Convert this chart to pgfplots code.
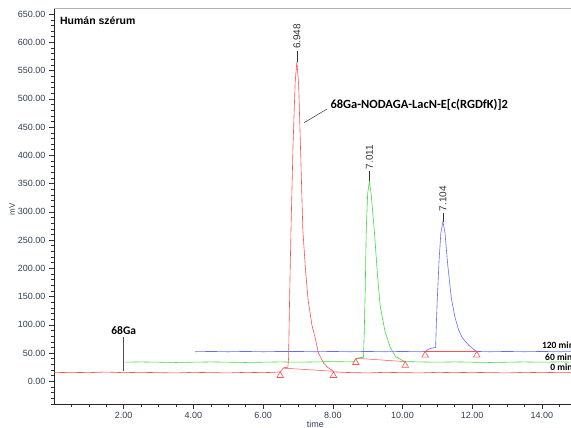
\documentclass[border=0pt]{standalone}
\usepackage{pgfplots}
\pgfplotsset{compat=1.18}
\usepackage{fontspec}
\setmainfont{Liberation Sans}
\newfontfamily\calb{Carlito}

\definecolor{tr0}{RGB}{255,80,80}
\definecolor{tr60}{RGB}{60,220,60}
\definecolor{tr120}{RGB}{105,105,255}
\definecolor{ticktxt}{RGB}{50,62,85}

\begin{document}
\begin{tikzpicture}
\begin{axis}[
    at={(0,0)}, anchor=south west, scale only axis,
    width=522.75pt, height=395.5pt,
    xmin=0, xmax=15, ymin=-40, ymax=660,
    axis x line*=bottom, axis y line*=left,
    axis line style={-, black!85, line width=0.8pt},
    xtick={2,4,...,14}, minor xtick={0.5,1,...,15},
    ytick={0,50,...,650}, minor ytick={-40,-30,...,650},
    tick align=outside, major tick length=5pt, minor tick length=3pt,
    every tick/.style={black!80, line width=0.6pt},
    scaled ticks=false,
    /pgf/number format/fixed, /pgf/number format/fixed zerofill,
    /pgf/number format/precision=2, /pgf/number format/assume math mode=true,
    tick label style={font=\fontsize{9}{10}\selectfont, text=ticktxt},
    clip=false,
    every axis plot/.append style={line width=0.6pt},
]
% 0 min
\addplot[tr0] coordinates {
(0,15.5) (0.5,16) (1,15.5) (1.5,16.5) (2,15.5) (2.5,16) (3,15.5) (3.5,15) (4,16) (4.5,15.5)
(5,15) (5.5,16) (6,15.5) (6.3,16) (6.49,17) (6.59,24) (6.71,25) (6.73,40) (6.76,145) (6.80,268)
(6.86,420) (6.92,530) (6.97,566) (7.02,525) (7.08,400) (7.14,268) (7.22,195) (7.29,145) (7.4,100)
(7.49,78) (7.59,50) (7.73,33) (7.85,25) (7.97,20) (8.02,17) (8.3,16) (8.6,15.5) (9,15) (9.5,16)
(10,15.5) (10.5,15) (11,16) (11.5,15.5) (12,16) (12.5,15.5) (13,15) (13.5,16) (14,15.5) (14.5,16) (15,16)
};
% 60 min
\addplot[tr60] coordinates {
(2.03,34) (2.5,34.5) (3,34) (3.5,33.5) (4,34) (4.5,34.5) (5,34) (5.5,33.5) (6,34) (6.5,34.5)
(7,34) (7.5,34.5) (8,35) (8.5,34.5) (8.6,35) (8.66,40) (8.75,42) (8.88,42.5) (8.90,80) (8.93,160)
(8.96,268) (9.0,332) (9.05,354) (9.1,332) (9.19,268) (9.28,190) (9.36,133) (9.5,88) (9.65,60)
(9.8,44) (10.0,37) (10.1,35) (10.5,34.5) (11,34) (11.5,34.5) (12,34) (12.5,33.5) (13,34)
(13.5,34.5) (14,34) (14.5,34.5) (15,34)
};
% 120 min
\addplot[tr120] coordinates {
(4.05,52.5) (4.5,53) (5,52.5) (5.5,53) (6,52.5) (6.5,53) (7,53) (7.5,52.5) (8,53) (8.5,52.5)
(9,53) (9.5,52.5) (10,53) (10.5,52.5) (10.65,53) (10.75,57) (10.84,59) (10.95,60) (10.97,100)
(11.0,148) (11.05,215) (11.1,262) (11.16,283) (11.22,262) (11.3,205) (11.4,148) (11.5,115)
(11.61,91) (11.7,79) (11.8,71) (11.92,63) (12.04,57) (12.13,53) (12.5,52.5) (13,53) (13.5,52.5)
(14,53) (14.5,52.5) (15,53)
};
% integration baselines
\addplot[tr0, line width=0.5pt] coordinates {(6.57,23.5) (8.02,18)};
\addplot[tr0, line width=0.5pt] coordinates {(8.66,41) (10.08,35)};
\addplot[tr0, line width=0.5pt] coordinates {(10.65,53.5) (12.13,53.5)};
% integration start/end markers
\addplot[only marks, mark=triangle, mark size=3.8pt,
    mark options={tr0, line width=0.6pt, yshift=-3.8pt}] coordinates {
(6.49,17) (8.02,17) (8.66,40) (10.08,35) (10.65,53) (12.13,53)
};

% peak labels
\draw[black!80, line width=0.6pt] (axis cs:6.97,566) -- (axis cs:6.97,585);
\node[rotate=90, anchor=west, inner sep=0pt, font=\fontsize{10}{11}\selectfont, text=black!80]
    at (axis cs:6.97,588) {6.948};
\draw[black!80, line width=0.6pt] (axis cs:9.05,354) -- (axis cs:9.05,372);
\node[rotate=90, anchor=west, inner sep=0pt, font=\fontsize{10}{11}\selectfont, text=black!80]
    at (axis cs:9.05,375) {7.011};
\draw[black!80, line width=0.6pt] (axis cs:11.16,283) -- (axis cs:11.16,298);
\node[rotate=90, anchor=west, inner sep=0pt, font=\fontsize{10}{11}\selectfont, text=black!80]
    at (axis cs:11.16,301) {7.104};

% annotations
\draw[black!80, line width=0.5pt] (axis cs:7.18,458) -- (axis cs:7.83,482);
\node[anchor=west, inner sep=0pt, font=\calb\bfseries\fontsize{12.5}{13}\selectfont]
    at (axis cs:7.93,490) {68Ga-NODAGA-LacN-E[c(RGDfK)]2};
\draw[black!70, line width=0.7pt] (axis cs:2.0,18) -- (axis cs:2.0,79);
\node[anchor=south, inner sep=0pt, font=\calb\bfseries\fontsize{11.5}{12}\selectfont]
    at (axis cs:2.0,82) {68Ga};
\node[anchor=north west, inner sep=0pt, font=\bfseries\fontsize{10.5}{11}\selectfont]
    at (axis cs:0.17,645) {Humán szérum};

% trace names at the right edge (cut by the picture's edge, as in the source)
\node[anchor=south west, inner sep=0pt, font=\calb\bfseries\fontsize{9.5}{10}\selectfont]
    at (axis cs:14.0,57) {120 min};
\node[anchor=south west, inner sep=0pt, font=\calb\bfseries\fontsize{9.5}{10}\selectfont]
    at (axis cs:14.09,37) {60 min};
\node[anchor=south west, inner sep=0pt, font=\calb\bfseries\fontsize{9.5}{10}\selectfont]
    at (axis cs:14.24,18.5) {0 min};

% axis titles
\node[rotate=90, font=\fontsize{8}{9}\selectfont, text=ticktxt] at (axis cs:-1.2,304) {mV};
\node[anchor=north, inner sep=0pt, font=\fontsize{9}{10}\selectfont, text=ticktxt]
    at (axis cs:7.5,-69) {time};

\draw[gray!60, line width=1pt] (rel axis cs:0,1) -- (rel axis cs:1,1);
\end{axis}
\pgfresetboundingbox
\useasboundingbox (-54pt,-24pt) rectangle (517pt,404pt);
\end{tikzpicture}
\end{document}
